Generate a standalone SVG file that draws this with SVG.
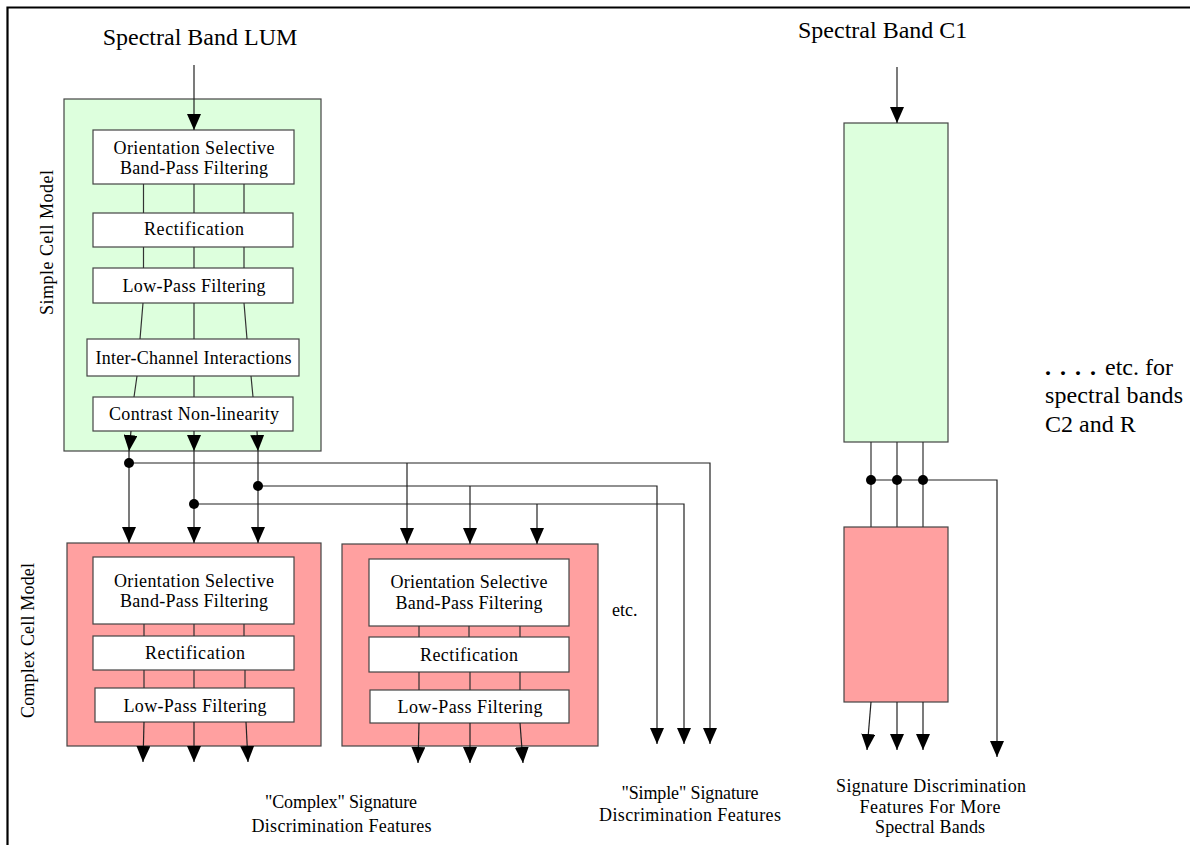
<svg xmlns="http://www.w3.org/2000/svg" width="1190" height="845" viewBox="0 0 1190 845">
<style>
text{font-family:"Liberation Serif","Times New Roman",serif;fill:#000}
.t24{font-size:24px}
.t18{font-size:18px;text-anchor:middle}
.lab{font-size:18px}
.green{fill:#ddffdd;stroke:#444;stroke-width:1.2}
.red{fill:#ffa0a0;stroke:#444;stroke-width:1.2}
.inner{fill:#fff;stroke:#444;stroke-width:1.2}
.ln{fill:none;stroke:#333;stroke-width:1.2}
.arr{fill:none;stroke:#222;stroke-width:1.2;marker-end:url(#ah)}
.dot{fill:#000}
.frame{fill:none;stroke:#000;stroke-width:2.2}
</style>
<defs>
<marker id="ah" markerUnits="userSpaceOnUse" markerWidth="16" markerHeight="14" viewBox="0 0 16 14" refX="16" refY="7" orient="auto"><path d="M0,0 L16,7 L0,14 Z" fill="#000"/></marker>
</defs>
<path class="frame" d="M7.5,845 V7.5 H1190"/>

<text class="t24" x="200" y="45" text-anchor="middle">Spectral Band LUM</text>
<text class="t24" x="798" y="38">Spectral Band C1</text>

<g id="simple-cell-model">
<rect class="green" x="64" y="99" width="257" height="352"/>
<text class="lab" transform="translate(53,242.5) rotate(-90)" text-anchor="middle" textLength="145">Simple Cell Model</text>
</g>
<g id="s-orient">
<rect class="inner" x="93" y="130" width="201" height="54"/>
<text class="t18" x="194" y="154" textLength="161">Orientation Selective</text>
<text class="t18" x="194" y="174" textLength="148">Band-Pass Filtering</text>
</g>
<g id="s-rect">
<rect class="inner" x="93" y="213" width="200" height="34"/>
<text class="t18" x="194" y="235" textLength="100">Rectification</text>
</g>
<g id="s-low">
<rect class="inner" x="93" y="268" width="200" height="35"/>
<text class="t18" x="194" y="292" textLength="143">Low-Pass Filtering</text>
</g>
<g id="s-inter">
<rect class="inner" x="87" y="339" width="212" height="37"/>
<text class="t18" x="193.5" y="364" textLength="196">Inter-Channel Interactions</text>
</g>
<g id="s-contrast">
<rect class="inner" x="93" y="397" width="200" height="34"/>
<text class="t18" x="194" y="420" textLength="170">Contrast Non-linearity</text>
</g>

<g id="complex-cell-model-1">
<rect class="red" x="67" y="543" width="254" height="203"/>
<text class="lab" transform="translate(33.5,640.5) rotate(-90)" text-anchor="middle" textLength="155">Complex Cell Model</text>
</g>
<g id="c1-orient">
<rect class="inner" x="93" y="557" width="201" height="67"/>
<text class="t18" x="194" y="587" textLength="160">Orientation Selective</text>
<text class="t18" x="194" y="607" textLength="148">Band-Pass Filtering</text>
</g>
<g id="c1-rect">
<rect class="inner" x="93" y="636" width="201" height="34"/>
<text class="t18" x="195" y="659" textLength="100">Rectification</text>
</g>
<g id="c1-low">
<rect class="inner" x="95" y="688" width="199" height="34"/>
<text class="t18" x="195" y="712" textLength="143">Low-Pass Filtering</text>
</g>

<g id="complex-cell-model-2">
<rect class="red" x="342" y="544" width="256" height="202"/>
</g>
<g id="c2-orient">
<rect class="inner" x="369" y="559" width="200" height="67"/>
<text class="t18" x="469" y="588" textLength="157">Orientation Selective</text>
<text class="t18" x="469" y="609" textLength="147">Band-Pass Filtering</text>
</g>
<g id="c2-rect">
<rect class="inner" x="369" y="637" width="200" height="35"/>
<text class="t18" x="469" y="661" textLength="98">Rectification</text>
</g>
<g id="c2-low">
<rect class="inner" x="370" y="690" width="199" height="33"/>
<text class="t18" x="470" y="713" textLength="145">Low-Pass Filtering</text>
</g>

<g id="c1-simple">
<rect class="green" x="844" y="123" width="104" height="319"/>
</g>
<g id="c1-complex">
<rect class="red" x="844" y="527" width="104" height="175"/>
</g>

<g id="labels">
<text class="lab" x="612" y="616">etc.</text>
<text class="t24" x="1045" y="375"><tspan font-weight="bold" letter-spacing="9">....</tspan>etc. for</text>
<text class="t24" x="1045" y="403" textLength="138">spectral bands</text>
<text class="t24" x="1045" y="432">C2 and R</text>
<text class="t18" x="341" y="808" textLength="152">"Complex" Signature</text>
<text class="t18" x="341.5" y="831.5" textLength="180">Discrimination Features</text>
<text class="t18" x="690" y="799" textLength="137">"Simple" Signature</text>
<text class="t18" x="690" y="821" textLength="182">Discrimination Features</text>
<text class="t18" x="931" y="792" textLength="190">Signature Discrimination</text>
<text class="t18" x="930" y="813" textLength="141">Features For More</text>
<text class="t18" x="930" y="833" textLength="110">Spectral Bands</text>
</g>

<g id="connectors">
<line class="arr" x1="194" y1="65" x2="194" y2="130"/>
<line class="arr" x1="897" y1="67" x2="897" y2="123"/>
<!-- simple cell internal -->
<path class="ln" d="M143.5,184V213M194,184V213M244,184V213"/>
<path class="ln" d="M143.5,247V268M194,247V268M244,247V268"/>
<path class="ln" d="M143,303L140,339M194,303V339M244,303L247,339"/>
<path class="ln" d="M137,376L134,397M194,376V397M251,376L253,397"/>
<line class="arr" x1="131" y1="431" x2="129" y2="451"/>
<line class="arr" x1="194" y1="431" x2="194" y2="451"/>
<line class="arr" x1="257" y1="431" x2="258" y2="451"/>
<!-- distribution -->
<line class="arr" x1="129" y1="451" x2="129" y2="543"/>
<line class="arr" x1="194" y1="451" x2="194" y2="543"/>
<line class="arr" x1="258" y1="451" x2="258" y2="543"/>
<path class="arr" d="M129,463H710V744"/>
<path class="arr" d="M258,486H657V744"/>
<path class="arr" d="M194,504H684V744"/>
<line class="arr" x1="407" y1="463" x2="407" y2="544"/>
<line class="arr" x1="470" y1="486" x2="470" y2="544"/>
<line class="arr" x1="537" y1="504" x2="537" y2="544"/>
<circle class="dot" cx="129" cy="463" r="5"/>
<circle class="dot" cx="258" cy="486" r="5"/>
<circle class="dot" cx="194" cy="504" r="5"/>
<!-- complex 1 internal -->
<path class="ln" d="M144,624V636M194,624V636M244,624V636"/>
<path class="ln" d="M144,670V688M194,670V688M245,670V688"/>
<line class="arr" x1="144" y1="722" x2="143" y2="762"/>
<line class="arr" x1="194" y1="722" x2="194" y2="762"/>
<line class="arr" x1="246" y1="722" x2="248" y2="762"/>
<!-- complex 2 internal -->
<path class="ln" d="M419,626V637M469,626V637M520,626V637"/>
<path class="ln" d="M419,672V690M470,672V690M520,672V690"/>
<line class="arr" x1="419" y1="723" x2="418" y2="763"/>
<line class="arr" x1="470" y1="723" x2="470" y2="763"/>
<line class="arr" x1="520" y1="723" x2="523" y2="763"/>
<!-- right band -->
<path class="ln" d="M871,442V527M897,442V527M923,442V527"/>
<path class="arr" d="M871,480H997V757"/>
<circle class="dot" cx="871" cy="480" r="5"/>
<circle class="dot" cx="897" cy="480" r="5"/>
<circle class="dot" cx="923" cy="480" r="5"/>
<line class="arr" x1="871" y1="702" x2="867" y2="750"/>
<line class="arr" x1="897" y1="702" x2="897" y2="750"/>
<line class="arr" x1="923" y1="702" x2="923" y2="750"/>
</g>
</svg>
